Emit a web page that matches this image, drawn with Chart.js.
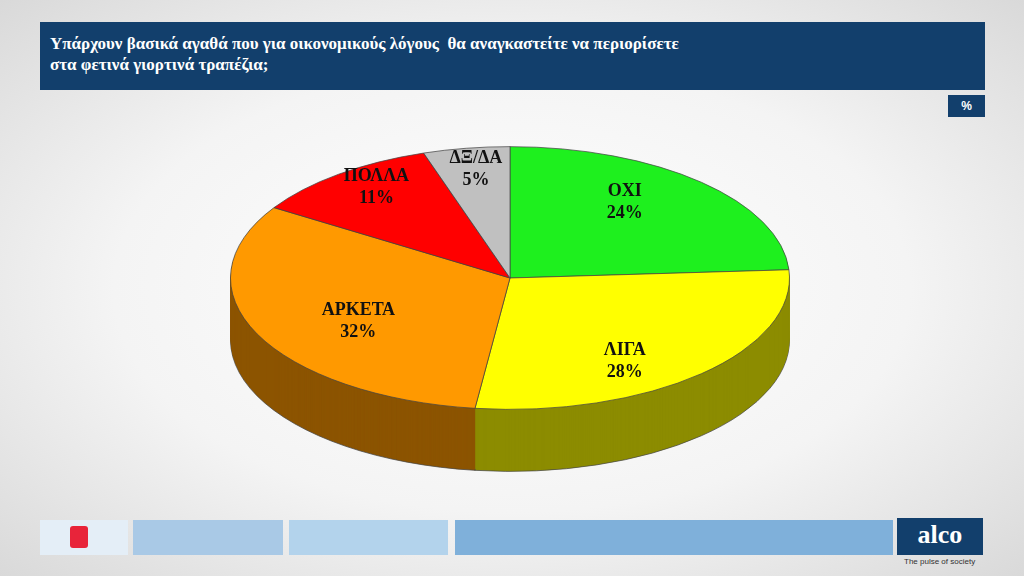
<!DOCTYPE html>
<html><head><meta charset="utf-8">
<script src="https://cdn.jsdelivr.net/npm/chart.js@4.4.0/dist/chart.umd.min.js"></script>
<style>
html,body{margin:0;padding:0;width:1024px;height:576px;overflow:hidden;font-family:"Liberation Serif",serif}
body{background:radial-gradient(ellipse at 50% 50%,#ffffff 0%,#f4f4f4 55%,#d9d9d9 100%)}
#hdr{position:absolute;left:40px;top:22px;width:945px;height:68px;background:#123f6c;color:#fff;font-weight:bold;font-family:"Liberation Serif",serif;font-size:17px;line-height:21px;box-sizing:border-box;padding:11px 0 0 10px}
#pct{position:absolute;left:948px;top:95px;width:37px;height:22px;background:#123f6c;color:#fff;font:bold 12px "Liberation Sans",sans-serif;text-align:center;line-height:22px}
.fb{position:absolute;top:520px;height:35px}
#alco{position:absolute;left:897px;top:518px;width:86px;height:37px;background:#123f6c;color:#fff;font:bold 26px "Liberation Serif",serif;text-align:center;line-height:34px}
#pulse{position:absolute;left:904px;top:557px;font:8px "Liberation Sans",sans-serif;color:#333}
canvas{position:absolute;left:0;top:0}
</style></head><body>
<div id="hdr">Υπάρχουν βασικά αγαθά που για οικονομικούς λόγους &nbsp;θα αναγκαστείτε να περιορίσετε<br>στα φετινά γιορτινά τραπέζια;</div>
<div id="pct">%</div>
<div class="fb" style="left:40px;width:88px;background:#e4eef7"><div style="position:absolute;left:30px;top:6px;width:18px;height:22px;background:#e8243a;border-radius:3px"></div></div>
<div class="fb" style="left:133px;width:150px;background:#a9c9e6"></div>
<div class="fb" style="left:289px;width:159px;background:#b3d3ec"></div>
<div class="fb" style="left:455px;width:438px;background:#7fb0da"></div>
<div id="alco">alco</div><div id="pulse">The pulse of society</div>
<canvas id="c" width="1024" height="576"></canvas>
<script>
const categories=["ΟΧΙ","ΛΙΓΑ","ΑΡΚΕΤΑ","ΠΟΛΛΑ","ΔΞ/ΔΑ"];
const values=[24,28,32,11,5];
const colors=["#1ef01e","#ffff00","#ff9900","#ff0000","#c0c0c0"];
const SY=0.47, CY=278, DEPTH=62;
function dark(h,f){const n=parseInt(h.slice(1),16);const r=(n>>16)*f|0,g=((n>>8)&255)*f|0,b=(n&255)*f|0;return `rgb(${r},${g},${b})`;}
const tilt={id:'tilt',
beforeDatasetsDraw(ch){const ctx=ch.ctx;const cy=(ch.chartArea.top+ch.chartArea.bottom)/2;
 const els=ch.getDatasetMeta(0).data;
 for(let d=DEPTH;d>=1;d--){ctx.save();ctx.translate(0,CY+d);ctx.scale(1,SY);ctx.translate(0,-cy);
  els.forEach((e,i)=>{const o=e.options;const bg=o.backgroundColor,bw=o.borderWidth;
   o.backgroundColor=dark(colors[i],0.55);o.borderWidth=(d===DEPTH)?1:0;e.draw(ctx);o.backgroundColor=bg;o.borderWidth=bw;});
  ctx.restore();}
 ctx.save();ctx.translate(0,CY);ctx.scale(1,SY);ctx.translate(0,-cy);},
afterDatasetsDraw(ch){const ctx=ch.ctx;ctx.restore();
 const offs=[-18,-14,-12,-10,-7];
 ch.getDatasetMeta(0).data.forEach((e,i)=>{const a=(e.startAngle+e.endAngle)/2;const r=e.outerRadius*(i>=3?0.78:0.6);
  const x=e.x+Math.cos(a)*r;const y=CY+Math.sin(a)*r*SY+(i===1?40:i===2?22:0)+offs[i];
  ctx.fillStyle='#111';ctx.font='bold 18px "Liberation Serif",serif';ctx.textAlign='center';ctx.textBaseline='middle';
  ctx.fillText(categories[i],x,y-11);ctx.fillText(values[i]+'%',x,y+11);});}
};
new Chart(document.getElementById('c'),{type:'pie',
data:{labels:categories,datasets:[{data:values,backgroundColor:colors,borderColor:'#444',borderWidth:1}]},
options:{responsive:false,animation:false,layout:{padding:{left:230,right:234,top:0,bottom:16}},
plugins:{legend:{display:false},tooltip:{enabled:false}}},plugins:[tilt]});
</script></body></html>
